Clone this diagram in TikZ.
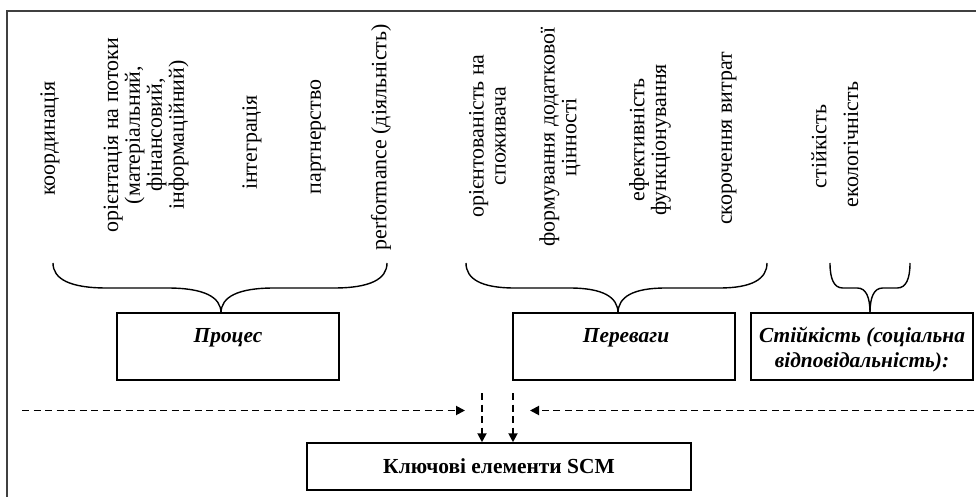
\documentclass[tikz,border=0pt]{standalone}
\usepackage{fontspec}
\setmainfont{Liberation Serif}
\usetikzlibrary{arrows.meta,calc}
\definecolor{framegray}{HTML}{404040}
\newcommand{\halfbrace}[2]{%
  \pgfmathsetmacro{\hbw}{#2-#1}%
  \draw[bracestyle] (#1,263) .. controls (#1,279) and ({#1+0.1*\hbw},288) .. ({#1+0.32*\hbw},288) -- ({#1+0.68*\hbw},288) .. controls ({#1+0.9*\hbw},288) and (#2,297) .. (#2,313);%
}
\begin{document}
\begin{tikzpicture}[x=1bp,y=-1bp,
  vtext/.style={rotate=90,align=center,inner sep=0pt,font=\fontsize{22}{22}\selectfont},
  boxstyle/.style={draw,line width=1.5bp,minimum width=222bp,minimum height=67bp,inner sep=0pt},
  boxtext/.style={anchor=base,inner sep=0pt,font=\fontsize{21.5}{25}\selectfont\bfseries\itshape},
  bracestyle/.style={line width=1.4bp},
  dasharrow/.style={line width=1.9bp,dash pattern=on 7bp off 4.5bp,-{Triangle[length=9bp,width=9bp]}},
  framestyle/.style={line width=2bp,draw=framegray},
]
\useasboundingbox (0,0) rectangle (976,497);
\draw[framestyle] (7,11) rectangle (990,510);

% rotated labels
\node[vtext] (t1) at (50,138.5) {координація};
\node[vtext] (t2) at (146,135) {орієнтація на потоки\\(матеріальний,\\фінансовий,\\інформаційний)};
\node[vtext] (t3) at (252,142.5) {інтеграція};
\node[vtext] (t4) at (318,137) {партнерство};
\node[vtext] (t5) at (381,137.5) {performance (діяльність)};
\node[vtext] (t6) at (487.5,136) {орієнтованість на\\споживача};
\node[vtext] (t7) at (560,137) {формування додаткової\\цінності};
\node[vtext] (t8) at (650,140) {ефективність\\функціонування};
\node[vtext] (t9) at (729,138.5) {скорочення витрат};
\node[vtext] (t10) at (819,146.5) {стійкість};
\node[vtext] (t11) at (851,144.5) {екологічність};

% boxes
\node[boxstyle] (proc) at (228,346.5) {};
\node[boxtext] (proct) at (228,343) {Процес};
\node[boxstyle] (perev) at (624,346.5) {};
\node[boxtext] (perevt) at (626,343) {Переваги};
\node[boxstyle] (stiik) at (862,346.5) {};
\node[boxtext] (stiikt1) at (862,343) {Стійкість (соціальна};
\node[boxtext] (stiikt2) at (862,368) {відповідальність):};

\node[draw,line width=1.5bp,minimum width=384bp,minimum height=47bp,inner sep=0pt,
      font=\fontsize{21.5}{25}\selectfont\bfseries] (key) at (499,466.5) {Ключові елементи SCM};

% braces
\halfbrace{53}{221}
\halfbrace{387}{221}
\halfbrace{466}{618}
\halfbrace{767}{618}
\halfbrace{830}{870}
\halfbrace{910}{870}

% dashed arrows
\coordinate (la) at (22,410.5);
\coordinate (lat) at (465,410.5);
\coordinate (ra) at (974,410.5);
\coordinate (rat) at (530,410.5);
\coordinate (v1) at (482,393);
\coordinate (v2) at (513,393);
\draw[dasharrow] (la) -- (lat);
\draw[dasharrow] (ra) -- (rat);
\draw[dasharrow] (v1) -- (v1 |- key.north);
\draw[dasharrow] (v2) -- (v2 |- key.north);
\end{tikzpicture}
\end{document}
